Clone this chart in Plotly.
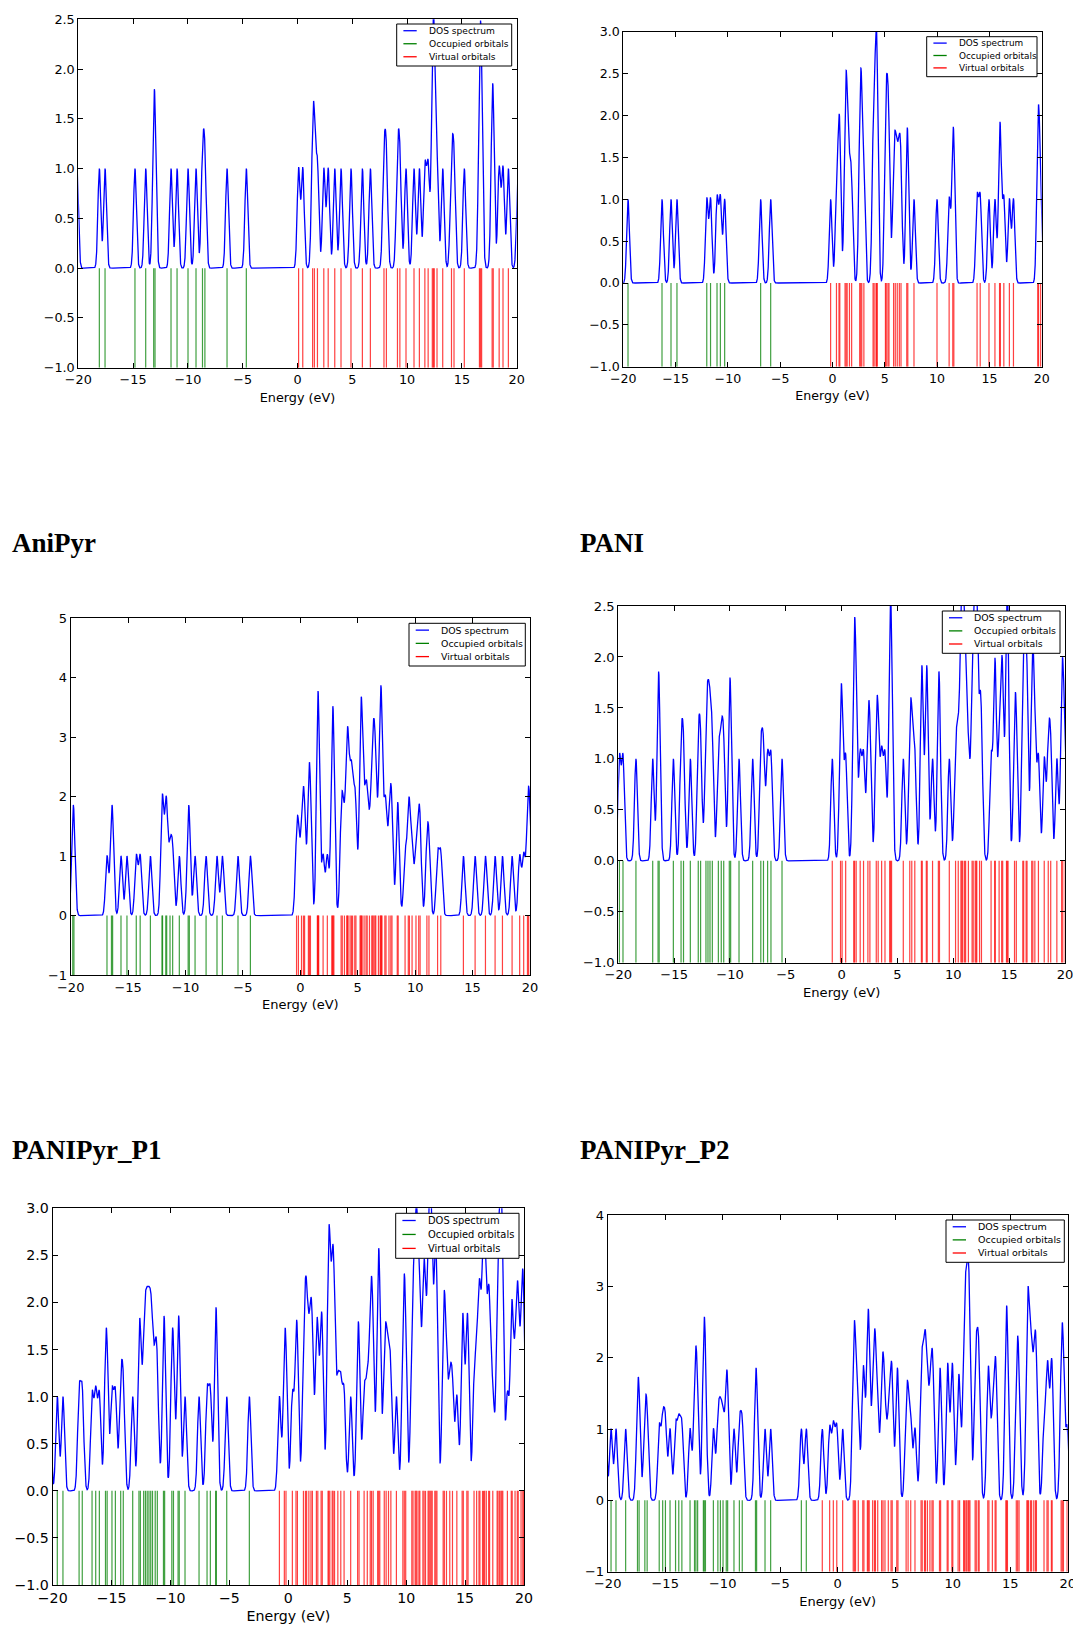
import numpy as np
import plotly.graph_objects as go

# ---------------- data: orbital energies (eV) ----------------
panel_titles = ["AniPyr", "PANI", "PANIPyr_P1", "PANIPyr_P2"]
series_names = ["DOS spectrum", "Occupied orbitals", "Virtual orbitals"]
x_tick_values = [-20, -15, -10, -5, 0, 5, 10, 15, 20]
axis_title = "Energy (eV)"

p1_occupied = [-20.12, -18.08, -17.56, -14.83, -13.85, -13.12, -13.0, -11.54, -10.99, -9.99,
               -9.26, -8.67, -8.45, -6.43, -4.67]
p1_virtual = [0.1, 0.48, 1.38, 1.54, 1.82, 2.4, 2.8, 3.4, 3.97, 4.88, 5.92, 6.65, 7.89, 8.11,
              9.12, 9.34, 9.9, 10.63, 11.12, 11.62, 11.92, 12.3, 12.4, 12.48, 12.73, 13.25,
              14.05, 14.28, 15.22, 16.6, 16.7, 16.8, 17.76, 17.86, 18.4, 18.75, 19.24, 20.13]

p2_occupied = [-19.55, -16.30, -15.44, -14.87, -12.02, -11.66, -11.04, -10.72, -10.31, -6.87, -5.91]
p2_virtual = [-0.18, 0.38, 0.62, 0.70, 1.2, 1.3, 1.4, 1.62, 1.83, 2.6, 2.7, 2.8, 3.0, 3.88, 3.98,
              4.16, 4.22, 4.28, 5.06, 5.14, 5.3, 5.4, 5.84, 6.0, 6.19, 6.39, 6.55, 7.1, 7.2, 7.79,
              9.99, 11.15, 11.5, 11.6, 13.82, 14.12, 14.96, 15.53, 15.97, 16.05, 16.38, 16.91,
              17.3, 19.62, 19.7, 19.9]

p3_occupied = [-19.82, -19.72, -16.84, -16.45, -16.35, -15.62, -15.10, -14.29, -13.95, -13.06,
               -12.05, -12.0, -11.72, -11.64, -11.35, -11.12, -10.54, -9.77, -9.67, -9.17,
               -8.21, -7.26, -6.79, -5.43, -4.35]
p3_virtual = [-0.33, -0.17, 0.1, 0.27, 0.37, 0.7, 0.79, 0.88, 1.48, 1.52, 1.56, 1.6, 1.98, 2.35,
              2.74, 2.8, 2.86, 2.92, 3.55, 3.65, 3.84, 4.04, 4.1, 4.16, 4.33, 4.45, 4.55, 4.74,
              4.84, 5.2, 5.26, 5.32, 5.38, 5.55, 5.72, 5.82, 6.02, 6.22, 6.3, 6.4, 6.5, 6.57,
              6.8, 6.95, 7.0, 7.06, 7.11, 7.36, 7.46, 7.72, 7.88, 7.98, 8.44, 8.52, 9.12, 9.4,
              9.5, 9.73, 10.07, 10.31, 10.43, 11.02, 11.2, 11.95, 12.23, 14.2, 15.22, 16.12,
              16.96, 17.6, 18.44, 19.1, 19.45, 19.78, 19.88, 20.05]

p4_occupied = [-19.9, -19.58, -18.42, -16.92, -16.44, -16.34, -15.07, -14.38, -14.16, -13.55,
               -12.84, -12.63, -12.15, -11.97, -11.79, -11.58, -11.04, -10.78, -10.56, -10.06,
               -9.94, -9.19, -7.97, -7.24, -7.0, -6.63, -6.33, -5.34]
p4_virtual = [-0.84, -0.1, 0.04, 0.36, 1.08, 1.16, 1.3, 1.66, 1.96, 2.35, 2.53, 3.1, 3.27, 3.58,
              3.88, 4.3, 4.38, 4.47, 5.52, 6.1, 6.28, 6.55, 7.14, 7.22, 7.58, 7.66, 8.14, 8.66,
              8.76, 9.64, 10.2, 10.44, 10.68, 10.76, 10.84, 11.0, 11.1, 11.35, 11.68, 11.78,
              11.96, 12.04, 12.1, 12.35, 12.52, 13.38, 13.7, 13.76, 14.1, 14.33, 14.42, 14.76,
              14.83, 14.9, 15.48, 15.64, 16.22, 16.3, 16.52, 16.6, 17.02, 17.12, 17.3, 17.62,
              18.14, 18.5, 18.72, 19.27, 19.7, 19.8, 20.02]

p5_occupied = [-20.28, -19.61, -19.13, -17.76, -17.49, -16.66, -16.35, -16.04, -15.52, -15.38,
               -14.97, -14.68, -14.23, -14.01, -13.21, -12.68, -12.56, -12.28, -12.13, -11.98,
               -11.83, -11.68, -11.53, -11.3, -11.12, -10.6, -10.5, -9.89, -9.75, -9.36, -9.26,
               -8.77, -7.58, -6.9, -6.62, -6.17, -6.11, -5.23, -3.31]
p5_virtual = [-0.76, -0.34, -0.2, 0.34, 0.65, 0.77, 1.28, 1.45, 1.55, 1.74, 1.92, 2.04, 2.38, 2.5,
              2.78, 2.88, 3.37, 3.43, 3.52, 3.72, 3.8, 3.92, 4.2, 4.45, 4.73, 5.29, 5.88, 6.0,
              6.43, 6.7, 6.95, 7.06, 7.2, 7.58, 7.67, 7.76, 8.14, 8.3, 8.5, 8.7, 9.17, 9.72,
              9.84, 9.96, 10.48, 10.58, 10.76, 10.84, 10.92, 11.08, 11.16, 11.42, 11.52, 11.64,
              11.86, 11.94, 12.03, 12.12, 12.21, 12.43, 12.52, 12.61, 13.14, 13.24,
              13.42, 13.7, 13.93, 14.3, 14.75, 14.85, 15.15, 15.25, 15.76, 15.98, 16.18, 16.26,
              16.48, 16.57, 16.66, 16.8, 17.0, 17.08, 17.35, 17.72, 17.8, 17.93, 18.04, 18.12,
              18.2, 18.59, 18.92, 19.0, 19.24, 19.43, 19.51, 19.75, 19.9, 19.98]

p6_occupied = [-20.2, -19.71, -19.28, -18.44, -17.41, -17.27, -16.77, -16.57, -15.52, -15.22,
               -14.98, -14.58, -14.1, -13.82, -13.55, -12.84, -12.45, -12.33, -12.18, -11.68,
               -11.6, -11.5, -10.81, -10.42, -10.2, -9.97, -9.69, -9.57, -9.02, -8.55, -8.3,
               -7.15, -7.05, -6.32, -5.83, -3.16, -2.73]
p6_virtual = [-1.34, -0.7, -0.38, -0.08, 0.43, 1.35, 1.45, 1.55, 1.79, 2.18, 2.28, 2.58, 2.66,
              2.74, 3.04, 3.2, 3.28, 3.48, 3.82, 3.94, 4.11, 4.4, 4.64, 4.74, 5.14, 5.24, 5.95,
              6.12, 6.35, 6.72, 7.25, 7.35, 7.55, 7.63, 7.8, 8.02, 8.2, 8.3, 8.85, 8.95, 9.52,
              9.6, 9.93, 10.01, 10.47, 10.6, 10.95, 11.03, 11.15, 11.23, 11.35, 11.42, 11.5,
              11.95, 12.05, 12.22, 12.3, 13.05, 13.15, 13.45, 13.69, 13.77, 14.62, 14.69, 14.76,
              15.53, 15.65, 15.77, 16.45, 16.52, 16.59, 16.76, 16.86, 17.05, 17.2, 17.28, 17.94,
              18.2, 18.3, 18.58, 18.65, 19.43, 19.53, 19.63, 19.95]

panels_data = [
    (p1_occupied, p1_virtual),
    (p2_occupied, p2_virtual),
    (p3_occupied, p3_virtual),
    (p4_occupied, p4_virtual),
    (p5_occupied, p5_virtual),
    (p6_occupied, p6_virtual),
]
y_ranges = [(-1, 2.5), (-1, 3.0), (-1, 5), (-1, 2.5), (-1, 3.0), (-1, 4)]
y_dticks = [0.5, 0.5, 1, 0.5, 0.5, 1]

# ---------------- layout / style (pixel boxes in the 1073x1627 page) ----------------
W, H = 1073, 1627
SIGMA = 0.13  # Gaussian broadening used by the DOS spectrum (eV)

axes_boxes = [  # left, top, right, bottom
    (78.3, 19.3, 516.7, 367.7),
    (623.3, 32.0, 1041.7, 366.7),
    (70.7, 618.3, 530.0, 975.0),
    (618.3, 606.0, 1065.0, 962.7),
    (52.7, 1208.3, 524.0, 1585.0),
    (607.7, 1215.0, 1067.7, 1571.7),
]
legend_boxes = [
    (396.7, 24.0, 511.7, 66.0),
    (926.7, 36.7, 1037.0, 76.7),
    (409.0, 623.3, 525.3, 666.0),
    (942.3, 611.0, 1060.0, 653.3),
    (395.7, 1213.3, 519.0, 1258.3),
    (946.0, 1220.0, 1064.3, 1262.3),
]
legend_fonts = [9.1, 8.9, 9.4, 9.4, 9.9, 9.5]
tick_fonts = [12.8, 12.6, 13.0, 13.1, 14.2, 13.0]
y_formats = [".1f", ".1f", "d", ".1f", ".1f", "d"]
title_positions = [(10, 543), (578, 543), (10, 1150), (578, 1150)]

COL_DOS = "#0000ff"
COL_OCC = "rgba(0,128,0,0.75)"
COL_VIR = "rgba(255,0,0,0.75)"
SAMPLE_COL = ["#0000ff", "#008000", "#ff0000"]

grid = np.linspace(-20.6, 20.6, 8241)


def dos_curve(levels):
    e = np.asarray(levels, dtype=float)[:, None]
    return np.exp(-(grid[None, :] - e) ** 2 / (2 * SIGMA ** 2)).sum(axis=0)


def sticks(levels):
    xs, ys = [], []
    for e in levels:
        xs += [e, e, None]
        ys += [-1, 0, None]
    return xs, ys


fig = go.Figure()
shapes, annotations = [], []

for i, (occ, vir) in enumerate(panels_data):
    n = "" if i == 0 else str(i + 1)
    xa, ya = "x" + n, "y" + n
    ox, oy = sticks(occ)
    vx, vy = sticks(vir)
    fig.add_trace(go.Scatter(x=ox, y=oy, mode="lines", name=series_names[1],
                             line=dict(color=COL_OCC, width=1.2), xaxis=xa, yaxis=ya,
                             showlegend=False, hoverinfo="skip"))
    fig.add_trace(go.Scatter(x=vx, y=vy, mode="lines", name=series_names[2],
                             line=dict(color=COL_VIR, width=1.2), xaxis=xa, yaxis=ya,
                             showlegend=False, hoverinfo="skip"))
    fig.add_trace(go.Scatter(x=grid, y=dos_curve(list(occ) + list(vir)), mode="lines",
                             name=series_names[0], line=dict(color=COL_DOS, width=1.3),
                             xaxis=xa, yaxis=ya, showlegend=False))

    l, t, r, b = axes_boxes[i]
    fs = tick_fonts[i]
    common = dict(showline=True, linecolor="black", linewidth=1, mirror="allticks",
                  ticks="inside", ticklen=5, tickcolor="black", tickwidth=1,
                  showgrid=False, zeroline=False, automargin=False,
                  ticklabeloverflow="allow",
                  tickfont=dict(family="DejaVu Sans", size=fs, color="black"))
    fig.layout["xaxis" + n] = dict(domain=[l / W, r / W], range=[-20, 20], anchor=ya,
                                    tickmode="array", tickvals=x_tick_values,
                                    title=dict(text=axis_title, standoff=6,
                                               font=dict(family="DejaVu Sans", size=fs, color="black")),
                                    **common)
    y0, y1 = y_ranges[i]
    fig.layout["yaxis" + n] = dict(domain=[1 - b / H, 1 - t / H], range=[y0, y1], anchor=xa,
                                    tick0=y0, dtick=y_dticks[i], tickformat=y_formats[i],
                                    **common)

    # legend box drawn in page coordinates
    ll, lt, lr, lb = legend_boxes[i]
    shapes.append(dict(type="rect", xref="paper", yref="paper", x0=ll / W, x1=lr / W,
                       y0=1 - lb / H, y1=1 - lt / H, line=dict(color="black", width=1),
                       fillcolor="white", layer="above"))
    hgt = lb - lt
    for k, frac in enumerate([0.16, 0.47, 0.78]):
        yc = lt + hgt * frac
        shapes.append(dict(type="line", xref="paper", yref="paper", x0=(ll + 6.7) / W,
                           x1=(ll + 20) / W, y0=1 - yc / H, y1=1 - yc / H,
                           line=dict(color=SAMPLE_COL[k], width=1.3), layer="above"))
        annotations.append(dict(xref="paper", yref="paper", x=(ll + 30) / W, y=1 - yc / H,
                                xanchor="left", yanchor="middle", showarrow=False,
                                text=series_names[k],
                                font=dict(family="DejaVu Sans", size=legend_fonts[i], color="black")))

for name, (tx, ty) in zip(panel_titles, title_positions):
    annotations.append(dict(xref="paper", yref="paper", x=tx / W, y=1 - ty / H,
                            xanchor="left", yanchor="middle", showarrow=False,
                            text="<b>" + name + "</b>",
                            font=dict(family="Liberation Serif", size=27, color="black")))

fig.update_layout(width=W, height=H, margin=dict(l=0, r=0, t=0, b=0),
                  paper_bgcolor="white", plot_bgcolor="white", showlegend=False,
                  shapes=shapes, annotations=annotations)

fig.write_html("out.html")
